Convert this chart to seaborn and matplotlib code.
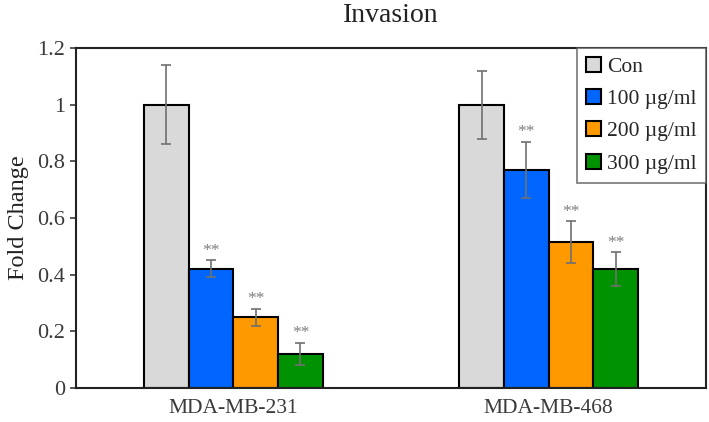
import pandas as pd
import matplotlib
matplotlib.use('Agg')
import matplotlib.pyplot as plt
import seaborn as sns

# ─────────────────────────────
#  DATA
# ─────────────────────────────
cells      = ['MDA-MB-231', 'MDA-MB-468']
treatments = ['Con', '100 µg/ml', '200 µg/ml', '300 µg/ml']
fold_231   = [1.00, 0.42, 0.25, 0.12]
err_231    = [0.14, 0.03, 0.03, 0.04]
fold_468   = [1.00, 0.77, 0.515, 0.42]
err_468    = [0.12, 0.10, 0.073, 0.06]
stars_231  = ['', '**', '**', '**']
stars_468  = ['', '**', '**', '**']

bar_colors = ['#d9d9d9', '#0066ff', '#ff9900', '#009200']

df = pd.DataFrame({
    'cell' : [cells[0]] * 4 + [cells[1]] * 4,
    'treat': treatments * 2,
    'fold' : fold_231 + fold_468,
    'err'  : err_231 + err_468,
    'star' : stars_231 + stars_468,
})

# ─────────────────────────────
#  STYLE
# ─────────────────────────────
sns.set_style('ticks')
plt.rcParams['font.family'] = ['Liberation Serif', 'DejaVu Serif']

fig = plt.figure(figsize=(7.09, 4.22), dpi=100)
ax = fig.add_axes([0.107, 0.081, 0.889, 0.805])

sns.barplot(data=df, x='cell', y='fold', hue='treat', order=cells,
            hue_order=treatments, palette=bar_colors, saturation=1,
            width=0.567, edgecolor='black', linewidth=1.5,
            errorbar=None, ax=ax)

# error bars + significance stars
for cont, t in zip(ax.containers, treatments):
    sub = df[df['treat'] == t].set_index('cell').loc[cells]
    for bar, val, e, s in zip(cont, sub['fold'], sub['err'], sub['star']):
        cx = bar.get_x() + bar.get_width() / 2
        ax.errorbar(cx, val, yerr=e, color='#707070', capsize=3.5,
                    elinewidth=1.2, capthick=1.2)
        if s:
            ax.text(cx, val + e + 0.004, s, ha='center', va='bottom',
                    color='#7f7f7f', fontsize=12.5)

ax.set_ylim(0, 1.2)
ax.set_xlim(-0.5, 1.5)
ax.set_yticks([0, 0.2, 0.4, 0.6, 0.8, 1.0, 1.2])
ax.set_yticklabels(['0', '0.2', '0.4', '0.6', '0.8', '1', '1.2'])
ax.tick_params(axis='y', labelsize=16, length=4, width=1.2, colors='#3a3a3a')
ax.tick_params(axis='x', labelsize=15.5, length=0, pad=8, colors='#3a3a3a')
ax.set_xlabel('')
ax.set_ylabel('Fold Change', fontsize=17.5, color='#222222', labelpad=6)
ax.set_title('Invasion', fontsize=20, color='#222222', pad=19)

for sp in ax.spines.values():
    sp.set_visible(True)
    sp.set_color('#222222')
    sp.set_linewidth(1.5)

handles, labels = ax.get_legend_handles_labels()
leg = ax.legend(handles, labels, loc='upper right', borderaxespad=0,
                fontsize=15.5, frameon=True, fancybox=False,
                handlelength=0.7, handleheight=0.7, handletextpad=0.3,
                labelspacing=0.56, borderpad=0.42)
leg.get_frame().set_edgecolor('#555555')
leg.get_frame().set_linewidth(1.2)

plt.savefig('out.png', dpi=100, facecolor='white')
